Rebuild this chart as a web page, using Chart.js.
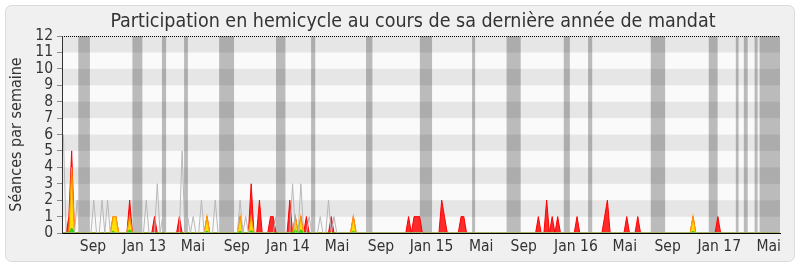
<!DOCTYPE html>
<html>
<head>
<meta charset="utf-8">
<script src="https://cdn.jsdelivr.net/npm/chart.js@4.4.1/dist/chart.umd.min.js"></script>
<style>
  html, body { margin: 0; padding: 0; background: #ffffff; }
  canvas { display: block; }
</style>
</head>
<body>
<canvas id="chart" width="800" height="267"></canvas>
<script>
// Weekly activity in the chamber, June 2012 - June 2017 (one value per week, week 0 first).
const chartTitle = 'Participation en hemicycle au cours de sa dernière année de mandat';
const yAxisTitle = 'Séances par semaine';

// Month labels on the time axis and the week index they sit on.
const tickLabels = ['Sep', 'Jan 13', 'Mai', 'Sep', 'Jan 14', 'Mai', 'Sep', 'Jan 15', 'Mai', 'Sep', 'Jan 16', 'Mai', 'Sep', 'Jan 17', 'Mai'];
const tickWeeks  = [10.7, 29.3, 46.9, 62.8, 81.3, 99.1, 115.0, 133.3, 151.3, 166.7, 185.6, 203.3, 218.8, 237.5, 255.4];

// Parliamentary recess periods (week index, start and end).
const recessStart = [5.4, 25.0, 35.7, 43.7, 56.4, 77.0, 89.7, 109.6, 129.1, 148.0, 160.5, 181.2, 190.0, 212.7, 233.7, 243.5, 246.4, 250.3, 252.1];
const recessEnd   = [9.6, 28.6, 37.2, 45.1, 61.8, 80.4, 91.2, 111.9, 133.5, 149.1, 165.6, 183.4, 191.5, 217.9, 236.9, 244.5, 247.8, 251.4, 259.5];

// Sittings attended per week.
const presences = [
  0,0,1,5,0,0,0,0,0,0, 0,0,0,0,0,0,0,0,1,1,
  0,0,0,0,2,0,0,0,0,0, 0,0,0,1,0,0,0,0,0,0,
  0,0,1,0,0,0,0,0,0,0, 0,0,1,0,0,0,0,0,0,0,
  0,0,0,0,1,0,0,0,3,0, 0,2,0,0,0,1,1,0,0,0,
  0,0,2,0,1,0,1,0,1,0, 0,0,0,0,0,0,0,1,0,0,
  0,0,0,0,0,1,0,0,0,0, 0,0,0,0,0,0,0,0,0,0,
  0,0,0,0,0,1,0,1,1,1, 0,0,0,0,0,0,0,2,1,0,
  0,0,0,0,1,1,0,0,0,0, 0,0,0,0,0,0,0,0,0,0,
  0,0,0,0,0,0,0,0,0,0, 0,0,1,0,0,2,0,1,0,1,
  0,0,0,0,0,0,1,0,0,0, 0,0,0,0,0,0,1,2,0,0,
  0,0,0,0,1,0,0,0,1,0, 0,0,0,0,0,0,0,0,0,0,
  0,0,0,0,0,0,0,0,1,0, 0,0,0,0,0,0,0,1,0,0,
  0,0,0,0,0,0,0,0,0,0, 0,0,0,0,0,0,0,0,0,0
];

// Sittings with at least one intervention.
const participations = [
  0,0,0,4,0,0,0,0,0,0, 0,0,0,0,0,0,0,0,1,1,
  0,0,0,0,1,0,0,0,0,0, 0,0,0,0,0,0,0,0,0,0,
  0,0,0,0,0,0,0,0,0,0, 0,0,1,0,0,0,0,0,0,0,
  0,0,0,0,1,0,0,0,1,0, 0,0,0,0,0,0,0,0,0,0,
  0,0,0,0,1,0,1,0,0,0, 0,0,0,0,0,0,0,0,0,0,
  0,0,0,0,0,1,0,0,0,0, 0,0,0,0,0,0,0,0,0,0,
  0,0,0,0,0,0,0,0,0,0, 0,0,0,0,0,0,0,0,0,0,
  0,0,0,0,0,0,0,0,0,0, 0,0,0,0,0,0,0,0,0,0,
  0,0,0,0,0,0,0,0,0,0, 0,0,0,0,0,0,0,0,0,0,
  0,0,0,0,0,0,0,0,0,0, 0,0,0,0,0,0,0,0,0,0,
  0,0,0,0,0,0,0,0,0,0, 0,0,0,0,0,0,0,0,0,0,
  0,0,0,0,0,0,0,0,1,0, 0,0,0,0,0,0,0,0,0,0,
  0,0,0,0,0,0,0,0,0,0, 0,0,0,0,0,0,0,0,0,0
];

// Words spoken (scaled).
const mots = [
  0,0,0,0.3,0,0,0,0,0,0, 0,0,0,0,0,0,0,0,0.1,0,
  0,0,0,0,0.2,0,0,0,0,0, 0,0,0,0,0,0,0,0,0,0,
  0,0,0,0,0,0,0,0,0,0, 0,0,0.1,0,0,0,0,0,0,0,
  0,0,0,0,0.1,0,0,0,0.15,0, 0,0,0,0,0,0,0,0,0,0,
  0,0,0,0,0.2,0,0.2,0,0,0, 0,0,0,0,0,0,0,0,0,0,
  0,0,0,0,0,0.1,0,0,0,0, 0,0,0,0,0,0,0,0,0,0,
  0,0,0,0,0,0,0,0,0,0, 0,0,0,0,0,0,0,0,0,0,
  0,0,0,0,0,0,0,0,0,0, 0,0,0,0,0,0,0,0,0,0,
  0,0,0,0,0,0,0,0,0,0, 0,0,0,0,0,0,0,0,0,0,
  0,0,0,0,0,0,0,0,0,0, 0,0,0,0,0,0,0,0,0,0,
  0,0,0,0,0,0,0,0,0,0, 0,0,0,0,0,0,0,0,0,0,
  0,0,0,0,0,0,0,0,0.1,0, 0,0,0,0,0,0,0,0,0,0,
  0,0,0,0,0,0,0,0,0,0, 0,0,0,0,0,0,0,0,0,0
];

// Median attendance of all members.
const mediane = [
  6,0,0,0,0,2,0,0,0,0, 0,2,0,0,2,0,2,0,0,0,
  0,0,0,0,0,0,0,0,0,0, 2,0,0,0,3,0,1,0,0,0,
  0,0,0,5,0,1,0,1,0,0, 2,0,0,0,0,2,0,0,0,0,
  0,0,0,0,2,0,1,0,0,0, 0,0,0,0,0,0,0,1,0,0,
  0,0,0,3,0,0,3,0,0,1, 0,0,0,1,0,0,2,0,1,0,
  0,0,0,0,0,0,0,0,0,0, 0,0,0,0,0,0,0,0,0,0,
  0,0,0,0,0,0,0,0,0,0, 0,0,0,0,0,0,0,0,0,0,
  0,0,0,0,0,0,0,0,0,0, 0,0,0,0,0,0,0,0,0,0,
  0,0,0,0,0,0,0,0,0,0, 0,0,0,0,0,0,0,0,0,0,
  0,0,0,0,0,0,0,0,0,0, 0,0,0,0,0,0,0,0,0,0,
  0,0,0,0,0,0,0,0,0,0, 0,0,0,0,0,0,0,0,0,0,
  0,0,0,0,0,0,0,0,0,0, 0,0,0,0,0,0,0,0,0,0,
  0,0,0,0,0,0,0,0,0,0, 0,0,0,0,0,0,0,0,0,0
];

const FONT = '"DejaVu Sans Condensed", "DejaVu Sans", sans-serif';
const TEXT = '#333333';

const toPoints = arr => arr.map((v, i) => ({ x: i, y: v }));

// Panel, striped plot background, recess bands and the heading.
const panel = {
  id: 'panel',
  beforeDraw(chart) {
    const { ctx, chartArea: a, scales: { x, y } } = chart;
    ctx.save();
    ctx.fillStyle = '#ffffff';
    ctx.fillRect(0, 0, chart.width, chart.height);
    ctx.beginPath();
    ctx.roundRect(5.5, 5.5, 789, 256, 6);
    ctx.fillStyle = '#f0f0f0';
    ctx.fill();
    ctx.strokeStyle = '#dadada';
    ctx.lineWidth = 1;
    ctx.stroke();

    for (let k = 0; k < 12; k++) {
      const top = y.getPixelForValue(k + 1);
      const bottom = y.getPixelForValue(k);
      ctx.fillStyle = k % 2 ? '#e6e6e6' : '#fafafa';
      ctx.fillRect(a.left, top, a.right - a.left, bottom - top);
    }

    ctx.fillStyle = 'rgba(0,0,0,0.25)';
    recessStart.forEach((s, i) => {
      const x0 = x.getPixelForValue(s);
      const x1 = x.getPixelForValue(recessEnd[i]);
      ctx.fillRect(x0, a.top, x1 - x0, a.bottom - a.top);
    });

    ctx.strokeStyle = '#000000';
    ctx.setLineDash([1, 1]);
    ctx.beginPath();
    const yTop = Math.round(y.getPixelForValue(12)) + 0.5;
    ctx.moveTo(a.left, yTop);
    ctx.lineTo(a.right, yTop);
    ctx.stroke();
    ctx.restore();
  },
  afterDraw(chart) {
    const { ctx } = chart;
    ctx.save();
    ctx.font = '19.5px ' + FONT;
    ctx.fillStyle = TEXT;
    ctx.textAlign = 'center';
    ctx.textBaseline = 'alphabetic';
    ctx.fillText(chartTitle, 413, 27);
    ctx.restore();
  }
};

new Chart(document.getElementById('chart'), {
  type: 'line',
  data: {
    datasets: [
      { label: 'Médiane', data: toPoints(mediane), borderColor: '#b8b8b8', borderWidth: 1, fill: false, pointRadius: 0, tension: 0 },
      { label: 'Mots', data: toPoints(mots), borderColor: '#22cc00', backgroundColor: '#33dd00', borderWidth: 1, fill: 'origin', pointRadius: 0, tension: 0 },
      { label: 'Participations', data: toPoints(participations), borderColor: '#ff9900', backgroundColor: '#ffe000', borderWidth: 1.2, fill: 'origin', pointRadius: 0, tension: 0 },
      { label: 'Présences', data: toPoints(presences), borderColor: '#ff0000', backgroundColor: 'rgba(255,25,25,0.92)', borderWidth: 1, fill: 'origin', pointRadius: 0, tension: 0 }
    ]
  },
  options: {
    responsive: false,
    animation: false,
    devicePixelRatio: 1,
    layout: { padding: { top: 36, right: 20, bottom: 0, left: 0 } },
    plugins: { legend: { display: false }, tooltip: { enabled: false }, title: { display: false } },
    scales: {
      x: {
        type: 'linear',
        min: -0.5,
        max: 259.5,
        z: 1,
        afterBuildTicks(scale) { scale.ticks = tickWeeks.map(v => ({ value: v })); },
        afterFit(scale) { scale.height = 34; },
        ticks: {
          autoSkip: false, maxRotation: 0, padding: 5, color: TEXT,
          font: { family: FONT, size: 15.5 },
          callback: (value, index) => tickLabels[index]
        },
        grid: { display: true, drawOnChartArea: false, drawTicks: false },
        border: { display: true, color: '#000000', width: 1 }
      },
      y: {
        min: 0,
        max: 12,
        afterFit(scale) { scale.width = 62; },
        ticks: { stepSize: 1, autoSkip: false, padding: 4, color: TEXT, font: { family: FONT, size: 15.5 } },
        grid: { display: true, drawOnChartArea: false, drawTicks: true, tickLength: 5, color: '#8a8a8a' },
        border: { display: true, color: '#333333', width: 1 },
        title: { display: true, text: yAxisTitle, color: TEXT, font: { family: FONT, size: 16 }, padding: { top: 7, bottom: 0 } }
      }
    }
  },
  plugins: [panel]
});
</script>
</body>
</html>
